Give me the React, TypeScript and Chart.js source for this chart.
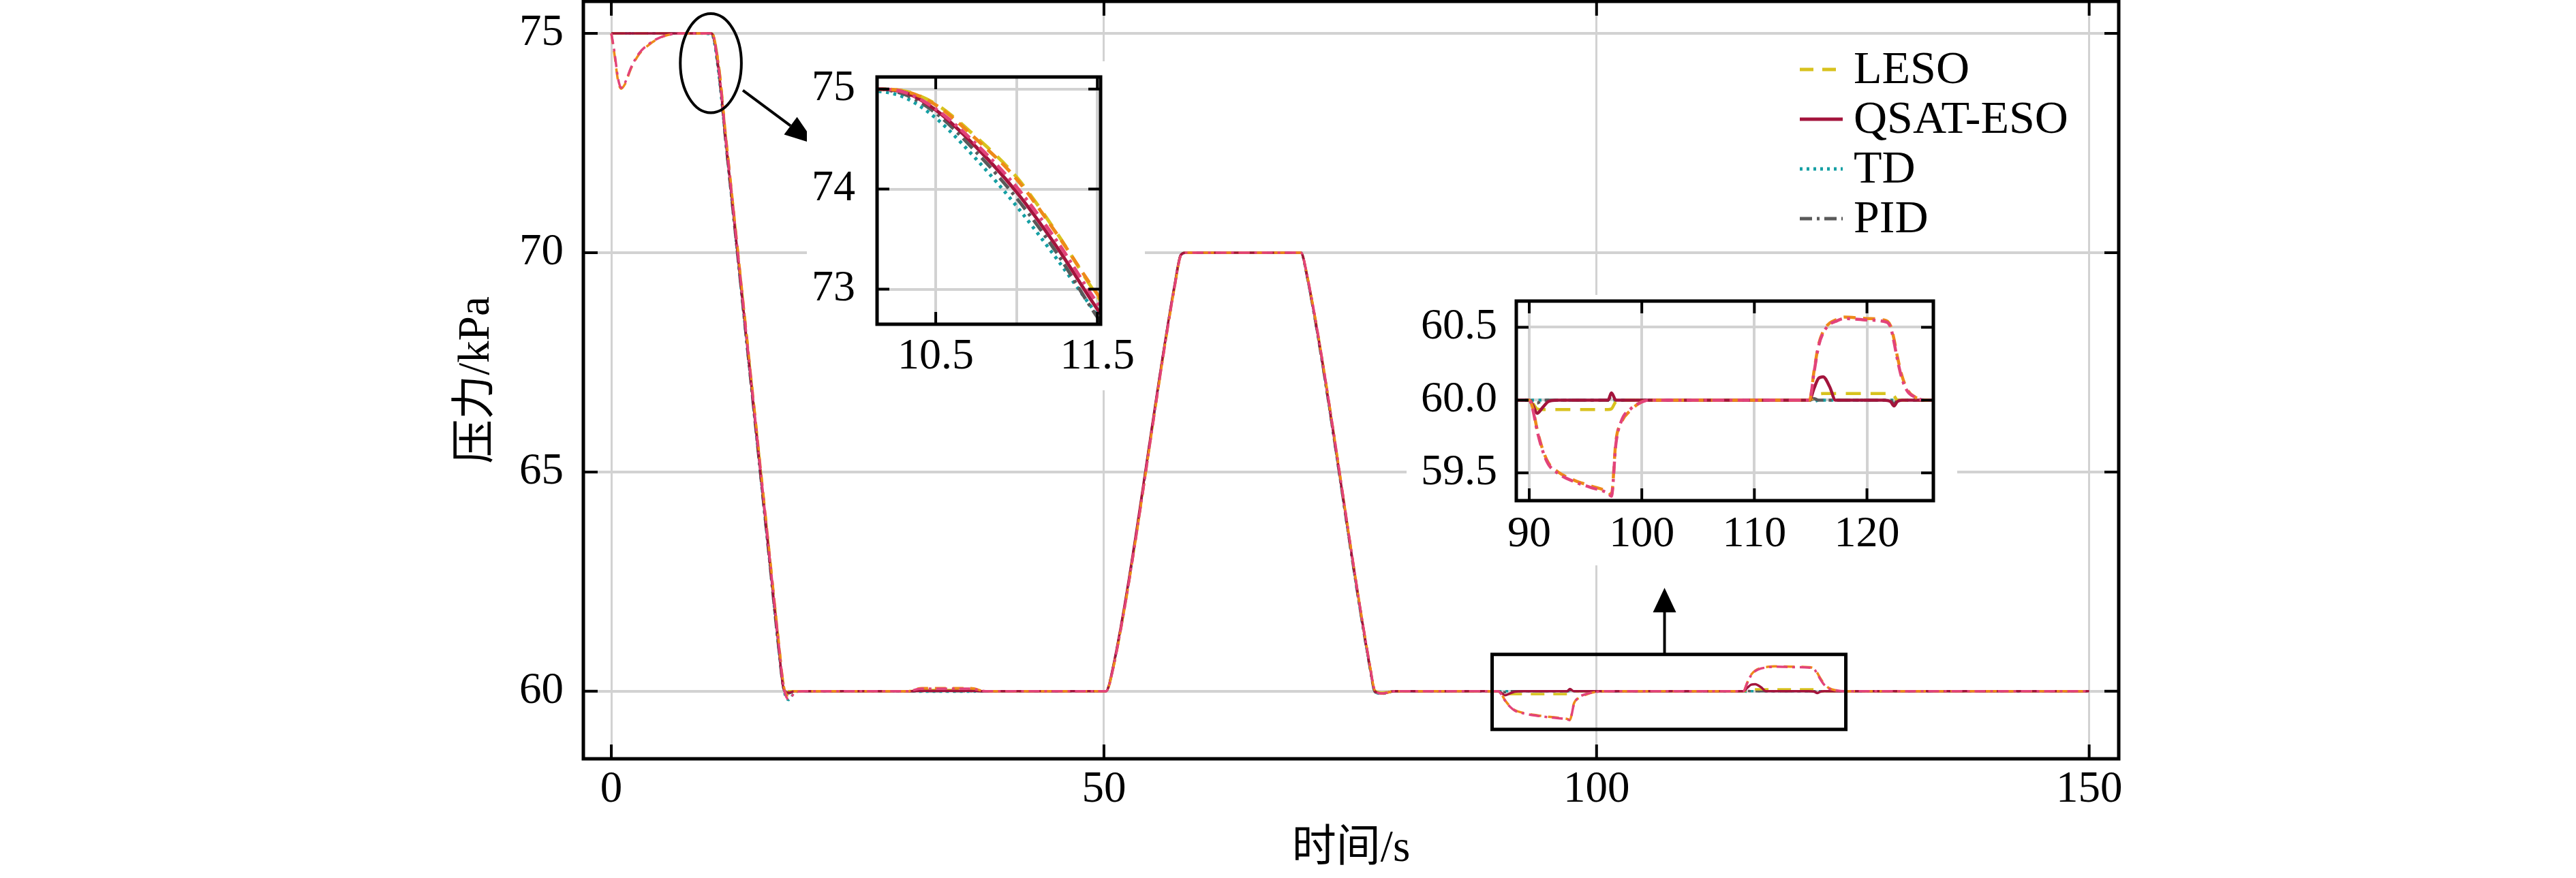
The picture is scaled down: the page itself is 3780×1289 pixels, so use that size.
import React, { useEffect, useRef } from 'react';
import { Chart, registerables } from 'chart.js';

Chart.register(...registerables);

// ---------------- data ----------------
const timeS = [
  0, 0.3, 0.7, 1.0, 1.4, 2.0, 2.8, 3.7, 4.6, 5.5, 7.0,
  10.1, 10.3, 10.5, 10.75, 11.0, 11.25, 11.5, 12.0, 14.0, 16.0, 17.0, 17.5, 18.0, 18.6, 19.5,
  25, 30, 31.5, 36.5, 38, 45, 50.2, 50.8, 57.2, 57.8, 58.3, 70.0, 70.5, 77.0, 77.5, 78.2, 79.5,
  90.0, 90.3, 90.7, 91.2, 91.7, 92.5, 94.0, 95.5, 97.0, 97.3, 97.7, 98.2, 99.0, 99.8, 100.6,
  110, 114.9, 115.3, 115.7, 116.1, 116.7, 117.2, 118.0, 120.0, 121.5, 122.1, 122.4, 122.7, 123.1, 123.6, 124.3, 125.2, 130, 150,
];

const lesoValues = [
  75, 75, 75, 75, 75, 75, 75, 75, 75, 75, 75,
  75.0, 74.98, 74.85, 74.52, 74.12, 73.56, 72.93, 71.85, 67.55, 63.25, 61.10, 60.15, 60.0, 60, 60,
  60, 60, 60.03, 60.03, 60, 60, 60, 60.38, 69.25, 69.93, 70, 70, 69.62, 60.58, 60.02, 59.97, 60,
  60, 59.98, 59.94, 59.935, 59.935, 59.935, 59.935, 59.935, 59.935, 59.94, 59.99, 60, 60, 60, 60,
  60, 60, 60.02, 60.04, 60.045, 60.045, 60.045, 60.045, 60.045, 60.045, 60.045, 60.03, 60.0, 60, 60, 60, 60, 60, 60,
];

const qsatValues = [
  75, 75, 75, 75, 75, 75, 75, 75, 75, 75, 75,
  75.0, 74.97, 74.79, 74.42, 73.97, 73.42, 72.80, 71.73, 67.43, 63.13, 60.98, 60.05, 59.97, 60.0, 60.0,
  60, 60, 60.01, 60.01, 60, 60, 60, 60.42, 69.3, 69.95, 70, 70, 69.6, 60.55, 60.0, 59.95, 60,
  60, 59.97, 59.91, 59.95, 59.99, 60, 60, 60, 60, 60.05, 60.0, 60, 60, 60, 60,
  60, 60, 60.08, 60.15, 60.16, 60.09, 60.0, 60, 60, 60, 59.99, 59.96, 59.99, 60, 60, 60, 60, 60, 60,
];

const tdValues = [
  75, 75, 75, 75, 75, 75, 75, 75, 75, 75, 75,
  74.98, 74.92, 74.71, 74.30, 73.83, 73.30, 72.74, 71.65, 67.35, 63.05, 60.90, 60.02, 59.80, 59.97, 60,
  60, 60, 59.99, 59.99, 60, 60, 60, 60.40, 69.28, 69.94, 70, 70, 69.58, 60.52, 59.98, 59.94, 60,
  60, 60, 60, 60, 60, 60, 60, 60, 60, 60, 60, 60, 60, 60, 60,
  60, 60, 59.99, 60, 60, 60, 60, 60, 60, 60, 60, 60, 60, 60, 60, 60, 60, 60, 60,
];

const pidValues = [
  75, 75, 75, 75, 75, 75, 75, 75, 75, 75, 75,
  75.0, 74.95, 74.76, 74.37, 73.91, 73.36, 72.72, 71.64, 67.34, 63.04, 60.90, 60.03, 59.95, 60, 60,
  60, 60, 60, 60, 60, 60, 60, 60.40, 69.28, 69.94, 70, 70, 69.58, 60.52, 59.98, 59.95, 60,
  60, 59.99, 59.98, 60, 60, 60, 60, 60, 60, 60.03, 60, 60, 60, 60, 60,
  60, 60, 60.01, 60, 60, 60, 60, 60, 60, 60, 60, 59.97, 60, 60, 60, 60, 60, 60, 60,
];

const orangeValues = [
  75, 74.55, 73.9, 73.74, 73.85, 74.2, 74.52, 74.72, 74.86, 74.95, 75.0,
  75.0, 74.98, 74.84, 74.50, 74.10, 73.55, 72.95, 71.87, 67.57, 63.27, 61.12, 60.12, 59.90, 60.0, 60,
  60, 60, 60.07, 60.07, 60, 60, 60, 60.38, 69.25, 69.93, 70, 70, 69.62, 60.58, 60.02, 59.95, 60,
  60, 59.95, 59.80, 59.66, 59.57, 59.51, 59.45, 59.41, 59.37, 59.35, 59.72, 59.85, 59.93, 59.98, 60,
  60, 60, 60.20, 60.38, 60.47, 60.53, 60.55, 60.57, 60.56, 60.55, 60.51, 60.42, 60.30, 60.17, 60.07, 60.02, 60.0, 60, 60,
];

const pinkValues = [
  75, 74.6, 73.95, 73.76, 73.88, 74.22, 74.54, 74.74, 74.87, 74.95, 75.0,
  75.0, 74.97, 74.80, 74.45, 74.02, 73.48, 72.86, 71.80, 67.50, 63.20, 61.05, 60.08, 59.82, 59.96, 60,
  60, 60, 60.06, 60.06, 60, 60, 60, 60.38, 69.25, 69.93, 70, 70, 69.62, 60.58, 60.02, 59.95, 60,
  60, 59.94, 59.79, 59.65, 59.56, 59.50, 59.44, 59.40, 59.36, 59.34, 59.70, 59.86, 59.94, 59.98, 60,
  60, 60, 60.19, 60.37, 60.46, 60.52, 60.54, 60.56, 60.55, 60.54, 60.50, 60.40, 60.28, 60.15, 60.06, 60.02, 60.0, 60, 60,
];

const legendOrder = ['LESO', 'QSAT-ESO', 'TD', 'PID'];

const mainXTicks = [0, 50, 100, 150];
const mainXLabels = ['0', '50', '100', '150'];
const mainYTicks = [60, 65, 70, 75];
const mainYLabels = ['60', '65', '70', '75'];

const in1XTicks = [10.5, 11, 11.5];
const in1XLabels = ['10.5', '', '11.5'];
const in1YTicks = [73, 74, 75];
const in1YLabels = ['73', '74', '75'];

const in2XTicks = [90, 100, 110, 120];
const in2XLabels = ['90', '100', '110', '120'];
const in2YTicks = [59.5, 60.0, 60.5];
const in2YLabels = ['59.5', '60.0', '60.5'];

// ---------------- styling ----------------
const FONT = '"Liberation Serif", "Times New Roman", "Noto Sans CJK SC", serif';
const GRID = '#d2d2d2';

const SERIES = [
  { label: 'LESO', values: lesoValues, color: '#d8c21e', dash: [20, 13], order: 3 },
  { label: 'QSAT-ESO', values: qsatValues, color: '#a3143c', dash: [], order: 2 },
  { label: 'TD', values: tdValues, color: '#159fa3', dash: [4, 6], order: 5 },
  { label: 'PID', values: pidValues, color: '#5a5a5a', dash: [18, 7, 4, 7], order: 4 },
  { label: '', values: orangeValues, color: '#ee8a18', dash: [16, 10], order: 1 },
  { label: '', values: pinkValues, color: '#e2437a', dash: [16, 7, 4, 7], order: 0 },
];

function makeDatasets(width: number, dashScale: number) {
  return SERIES.map((s) => ({
    label: s.label,
    data: timeS.map((x, i) => ({ x, y: s.values[i] })),
    borderColor: s.color,
    backgroundColor: s.color,
    borderWidth: width,
    borderDash: s.dash.map((d) => d * dashScale),
    pointRadius: 0,
    pointHoverRadius: 0,
    fill: false,
    cubicInterpolationMode: 'monotone',
    order: s.order,
  }));
}

const framePlugin: any = {
  id: 'frame',
  afterDatasetsDraw(chart: any, _args: any, opts: any) {
    const { ctx, chartArea: a, scales } = chart;
    ctx.save();
    ctx.strokeStyle = '#000';
    ctx.lineWidth = opts.tickWidth;
    const L = opts.tickLen;
    scales.x.ticks.forEach((t: any) => {
      if (t.label === '') return;
      const p = scales.x.getPixelForValue(t.value);
      ctx.beginPath();
      ctx.moveTo(p, a.bottom);
      ctx.lineTo(p, a.bottom - L);
      ctx.moveTo(p, a.top);
      ctx.lineTo(p, a.top + L);
      ctx.stroke();
    });
    scales.y.ticks.forEach((t: any) => {
      if (t.label === '') return;
      const p = scales.y.getPixelForValue(t.value);
      ctx.beginPath();
      ctx.moveTo(a.left, p);
      ctx.lineTo(a.left + L, p);
      ctx.moveTo(a.right, p);
      ctx.lineTo(a.right - L, p);
      ctx.stroke();
    });
    ctx.lineWidth = opts.lineWidth;
    ctx.strokeRect(a.left, a.top, a.right - a.left, a.bottom - a.top);
    ctx.restore();
  },
};

function drawArrow(ctx: any, x0: number, y0: number, x1: number, y1: number, headLen: number, headW: number) {
  const ang = Math.atan2(y1 - y0, x1 - x0);
  const bx = x1 - headLen * Math.cos(ang);
  const by = y1 - headLen * Math.sin(ang);
  ctx.beginPath();
  ctx.moveTo(x0, y0);
  ctx.lineTo(bx, by);
  ctx.stroke();
  ctx.beginPath();
  ctx.moveTo(x1, y1);
  ctx.lineTo(bx + (headW / 2) * Math.sin(ang), by - (headW / 2) * Math.cos(ang));
  ctx.lineTo(bx - (headW / 2) * Math.sin(ang), by + (headW / 2) * Math.cos(ang));
  ctx.closePath();
  ctx.fill();
}

// annotation geometry in data units
const ELLIPSE = { cx: 10.1, cy: 74.32, rx: 3.1, ry: 1.13 };
const ARROW1 = { x0: 13.35, y0: 73.7, x1: 20.75, y1: 72.47 };
const RECT = { x0: 89.4, x1: 125.3, y0: 59.13, y1: 60.84 };
const ARROW2 = { x: 106.9, y0: 60.84, y1: 62.36 };

const annotPlugin: any = {
  id: 'annot',
  afterDraw(chart: any) {
    const { ctx, scales } = chart;
    const X = (v: number) => scales.x.getPixelForValue(v);
    const Y = (v: number) => scales.y.getPixelForValue(v);
    ctx.save();
    ctx.strokeStyle = '#000';
    ctx.fillStyle = '#000';
    ctx.lineWidth = 4;
    // ellipse
    ctx.beginPath();
    ctx.ellipse(X(ELLIPSE.cx), Y(ELLIPSE.cy), Math.abs(X(ELLIPSE.cx + ELLIPSE.rx) - X(ELLIPSE.cx)),
      Math.abs(Y(ELLIPSE.cy + ELLIPSE.ry) - Y(ELLIPSE.cy)), 0, 0, Math.PI * 2);
    ctx.stroke();
    drawArrow(ctx, X(ARROW1.x0), Y(ARROW1.y0), X(ARROW1.x1), Y(ARROW1.y1), 46, 32);
    // rectangle
    ctx.lineWidth = 5;
    ctx.strokeRect(X(RECT.x0), Y(RECT.y1), X(RECT.x1) - X(RECT.x0), Y(RECT.y0) - Y(RECT.y1));
    ctx.lineWidth = 4;
    drawArrow(ctx, X(ARROW2.x), Y(ARROW2.y0), X(ARROW2.x), Y(ARROW2.y1), 36, 34);
    ctx.restore();
  },
};

const legendPlugin: any = {
  id: 'customLegend',
  afterDraw(chart: any) {
    const { ctx, chartArea: a } = chart;
    const x0 = a.right - 468;
    const x1 = x0 + 63;
    const tx = x0 + 79;
    ctx.save();
    ctx.font = `68px ${FONT}`;
    ctx.textBaseline = 'middle';
    ctx.textAlign = 'left';
    legendOrder.forEach((name, i) => {
      const ds = chart.data.datasets.find((d: any) => d.label === name);
      if (!ds) return;
      const y = a.top + 100 + i * 73;
      ctx.strokeStyle = ds.borderColor;
      ctx.lineWidth = 5;
      ctx.setLineDash(ds.borderDash || []);
      ctx.beginPath();
      ctx.moveTo(x0, y);
      ctx.lineTo(x1, y);
      ctx.stroke();
      ctx.setLineDash([]);
      ctx.fillStyle = '#000';
      ctx.fillText(name, tx, y + 2);
    });
    ctx.restore();
  },
};

function axis(opts: any) {
  const { min, max, ticks, labels, size, pad, horizontal, gridWidth, fontSize, title } = opts;
  return {
    type: 'linear',
    min,
    max,
    afterBuildTicks: (s: any) => {
      s.ticks = ticks.map((v: number) => ({ value: v }));
    },
    afterFit: (s: any) => {
      if (horizontal) {
        s.height = size;
        s.paddingLeft = 0;
        s.paddingRight = 0;
      } else {
        s.width = size;
        s.paddingTop = 0;
        s.paddingBottom = 0;
      }
    },
    grid: { color: GRID, lineWidth: gridWidth, drawTicks: false },
    border: { display: false },
    ticks: {
      autoSkip: false,
      maxRotation: 0,
      padding: pad,
      color: '#000',
      font: { family: FONT, size: fontSize },
      callback: (_v: any, i: number) => labels[i],
    },
    title: title || { display: false },
  };
}

export default function App() {
  const mainRef = useRef<HTMLCanvasElement>(null);
  const in1Ref = useRef<HTMLCanvasElement>(null);
  const in2Ref = useRef<HTMLCanvasElement>(null);

  useEffect(() => {
    const charts: any[] = [];
    const main = new Chart(mainRef.current as any, {
      type: 'line',
      data: { datasets: makeDatasets(3.5, 1) as any },
      options: {
        animation: false,
        responsive: false,
        devicePixelRatio: 1,
        layout: { padding: { top: 2, right: 671, left: 0, bottom: 0 } },
        plugins: {
          legend: { display: false },
          tooltip: { enabled: false },
          frame: { lineWidth: 5, tickLen: 21, tickWidth: 4 },
        } as any,
        scales: {
          x: axis({
            min: -2.84, max: 153, ticks: mainXTicks, labels: mainXLabels, size: 175, pad: 7,
            horizontal: true, gridWidth: 3, fontSize: 65,
            title: { display: true, text: '时间/s', color: '#000', font: { family: FONT, size: 65 }, padding: { top: 0, bottom: 3 } },
          }),
          y: axis({
            min: 58.46, max: 75.73, ticks: mainYTicks, labels: mainYLabels, size: 856, pad: 29,
            horizontal: false, gridWidth: 4, fontSize: 65,
            title: { display: true, text: '压力/kPa', color: '#000', font: { family: FONT, size: 65 }, padding: { top: 661, bottom: 0 } },
          }),
        } as any,
      },
      plugins: [framePlugin, annotPlugin, legendPlugin],
    } as any);
    charts.push(main);

    const in1 = new Chart(in1Ref.current as any, {
      type: 'line',
      data: { datasets: makeDatasets(5, 1.1) as any },
      options: {
        animation: false,
        responsive: false,
        devicePixelRatio: 1,
        layout: { padding: { top: 23, right: 65, left: 0, bottom: 0 } },
        plugins: {
          legend: { display: false },
          tooltip: { enabled: false },
          frame: { lineWidth: 5, tickLen: 18, tickWidth: 4 },
        } as any,
        scales: {
          x: axis({ min: 10.137, max: 11.52, ticks: in1XTicks, labels: in1XLabels, size: 97, pad: 10, horizontal: true, gridWidth: 4, fontSize: 64 }),
          y: axis({ min: 72.65, max: 75.12, ticks: in1YTicks, labels: in1YLabels, size: 103, pad: 32, horizontal: false, gridWidth: 4, fontSize: 64 }),
        } as any,
      },
      plugins: [framePlugin],
    } as any);
    charts.push(in1);

    const in2 = new Chart(in2Ref.current as any, {
      type: 'line',
      data: { datasets: makeDatasets(4.5, 1.1) as any },
      options: {
        animation: false,
        responsive: false,
        devicePixelRatio: 1,
        layout: { padding: { top: 9, right: 35, left: 0, bottom: 0 } },
        plugins: {
          legend: { display: false },
          tooltip: { enabled: false },
          frame: { lineWidth: 5, tickLen: 18, tickWidth: 4 },
        } as any,
        scales: {
          x: axis({ min: 88.85, max: 125.9, ticks: in2XTicks, labels: in2XLabels, size: 95, pad: 12, horizontal: true, gridWidth: 4, fontSize: 64 }),
          y: axis({ min: 59.31, max: 60.68, ticks: in2YTicks, labels: in2YLabels, size: 161, pad: 28, horizontal: false, gridWidth: 4, fontSize: 64 }),
        } as any,
      },
      plugins: [framePlugin],
    } as any);
    charts.push(in2);

    return () => {
      charts.forEach((c) => c.destroy());
    };
  }, []);

  return (
    <div style={{ position: 'fixed', left: 0, top: 0, width: 3780, height: 1289, background: '#fff', overflow: 'hidden' }}>
      <canvas ref={mainRef} width={3780} height={1289} style={{ position: 'absolute', left: 0, top: 0, width: 3780, height: 1289 }} />
      <canvas ref={in1Ref} width={496} height={483} style={{ position: 'absolute', left: 1184, top: 90, width: 496, height: 483, background: '#fff' }} />
      <canvas ref={in2Ref} width={808} height={397} style={{ position: 'absolute', left: 2064, top: 433, width: 808, height: 397, background: '#fff' }} />
    </div>
  );
}
